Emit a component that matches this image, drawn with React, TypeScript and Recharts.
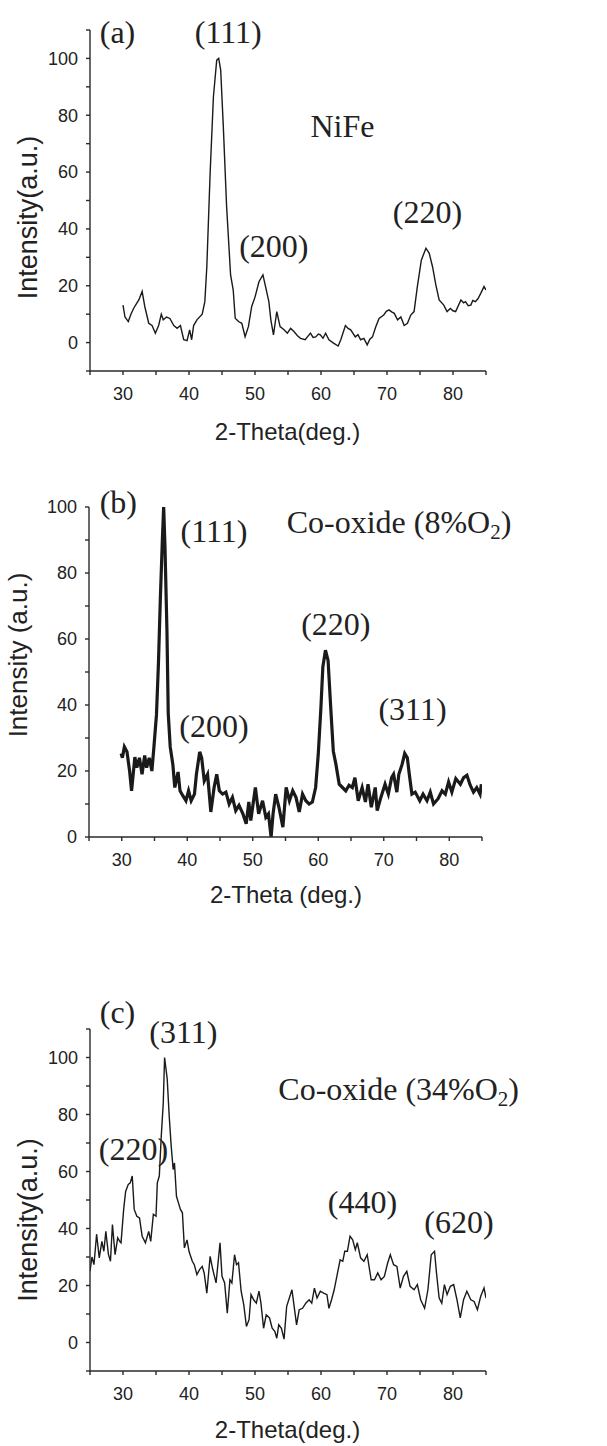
import React from 'react';
import { LineChart, Line, XAxis, YAxis } from 'recharts';

// ---------- Panel (a) NiFe ----------
const thetaA = [30.0, 30.3, 30.8, 31.2, 31.6, 32.0, 32.4, 32.9, 33.3, 33.9, 34.4, 34.9, 35.4, 35.8, 36.1, 36.6, 37.1, 37.7, 38.2, 38.7, 39.2, 39.7, 40.1, 40.4, 40.7, 41.2, 42.0, 42.4, 42.7, 43.2, 43.7, 44.2, 44.5, 44.8, 45.2, 45.7, 46.3, 46.7, 47.0, 47.5, 48.0, 48.5, 49.0, 49.5, 50.0, 50.6, 51.2, 51.6, 52.1, 52.4, 52.8, 53.3, 53.8, 54.4, 54.9, 55.4, 55.9, 56.4, 56.9, 57.6, 58.0, 58.4, 58.8, 59.2, 59.6, 59.9, 60.3, 60.7, 61.2, 61.9, 62.6, 63.0, 63.7, 64.1, 64.5, 65.2, 65.6, 66.0, 66.5, 67.0, 67.4, 67.8, 68.3, 68.8, 69.5, 69.9, 70.3, 70.7, 71.1, 71.6, 72.1, 72.6, 73.1, 73.6, 74.1, 74.6, 75.2, 75.9, 76.4, 76.9, 77.4, 77.9, 78.6, 79.1, 79.6, 80.0, 80.4, 81.2, 81.6, 81.9, 82.3, 82.7, 83.0, 83.4, 83.8, 84.2, 84.7, 85.0];
const intensityA = [13.2, 9.0, 7.4, 10.0, 12.0, 13.5, 15.0, 18.0, 12.7, 6.8, 6.0, 3.3, 6.0, 10.0, 8.0, 9.0, 8.5, 6.0, 5.0, 6.0, 1.0, 0.7, 4.5, 1.0, 6.0, 8.0, 10.0, 14.4, 26.7, 59.5, 86.5, 99.4, 100.0, 96.0, 76.0, 47.8, 23.8, 18.5, 8.6, 7.4, 6.8, 2.1, 5.6, 12.7, 16.0, 21.4, 23.8, 19.7, 14.4, 8.0, 2.7, 10.9, 5.6, 4.5, 3.3, 5.0, 3.9, 2.5, 1.5, 1.0, 2.2, 3.3, 1.8, 2.0, 3.0, 2.7, 1.5, 3.3, 1.0, -0.2, -1.2, 1.0, 6.0, 5.0, 4.5, 2.0, 2.8, 1.0, 1.5, -0.8, 1.2, 2.0, 5.6, 8.5, 9.7, 11.0, 11.5, 10.8, 10.3, 8.0, 9.0, 6.0, 6.8, 9.7, 10.9, 19.7, 29.0, 33.2, 31.4, 26.7, 20.3, 15.0, 13.2, 10.9, 12.0, 11.2, 10.9, 15.0, 14.0, 14.4, 13.0, 13.2, 14.8, 14.4, 15.5, 17.3, 19.7, 18.5];

// ---------- Panel (b) Co-oxide 8% O2 ----------
const thetaB = [29.9, 30.1, 30.4, 30.8, 31.2, 31.5, 32.0, 32.3, 32.7, 33.1, 33.5, 33.8, 34.2, 34.6, 34.9, 35.3, 35.6, 35.9, 36.2, 36.4, 36.6, 36.9, 37.1, 37.4, 37.8, 38.1, 38.6, 38.9, 39.3, 39.8, 40.2, 40.6, 41.1, 41.4, 41.9, 42.2, 42.6, 43.1, 43.6, 44.1, 44.5, 44.9, 45.4, 45.9, 46.4, 46.9, 47.4, 47.9, 48.5, 49.0, 49.4, 49.7, 50.4, 50.9, 51.5, 52.0, 52.4, 52.8, 53.1, 53.5, 54.0, 54.6, 55.1, 55.6, 56.1, 56.6, 57.1, 57.6, 58.1, 58.6, 59.1, 59.6, 60.0, 60.4, 60.7, 61.1, 61.5, 61.9, 62.3, 62.7, 63.2, 63.7, 64.2, 64.7, 65.2, 65.6, 66.1, 66.7, 67.2, 67.6, 68.1, 68.7, 69.0, 69.5, 70.2, 70.7, 71.2, 71.5, 72.0, 72.3, 72.8, 73.2, 73.6, 73.9, 74.3, 74.8, 75.5, 76.0, 76.6, 77.1, 77.6, 78.3, 78.9, 79.4, 79.9, 80.4, 81.0, 81.7, 82.2, 82.7, 83.2, 83.7, 84.2, 84.7, 84.9];
const intensityB = [25.3, 24.0, 27.3, 25.8, 20.0, 14.0, 24.2, 21.0, 24.0, 19.0, 24.7, 21.0, 24.0, 20.0, 27.0, 37.0, 52.5, 72.7, 90.0, 100.0, 88.0, 62.6, 37.4, 27.3, 22.0, 15.0, 19.7, 14.0, 12.6, 11.0, 14.0, 11.0, 13.0, 19.0, 25.8, 24.0, 17.0, 19.0, 7.6, 15.0, 19.0, 14.0, 13.0, 13.6, 10.0, 12.0, 8.0, 9.6, 7.0, 4.0, 10.6, 5.0, 15.0, 7.0, 11.0, 6.0, 7.0, 0.0, 7.0, 13.0, 9.0, 3.0, 15.0, 11.0, 14.0, 12.0, 7.6, 13.0, 11.0, 10.0, 10.6, 15.0, 25.0, 39.0, 51.5, 56.6, 53.5, 39.4, 26.0, 22.0, 16.0, 15.0, 14.0, 15.7, 15.0, 18.0, 11.0, 15.0, 10.6, 16.0, 9.0, 15.0, 8.0, 11.6, 16.0, 13.0, 18.0, 19.0, 13.6, 19.0, 22.0, 25.3, 24.0, 19.0, 13.0, 13.6, 11.0, 13.0, 11.0, 13.6, 10.0, 11.6, 14.0, 13.0, 16.7, 13.6, 17.7, 16.0, 18.0, 18.7, 15.7, 13.6, 15.0, 13.0, 16.0];

// ---------- Panel (c) Co-oxide 34% O2 ----------
const thetaC = [25.0, 25.3, 25.6, 26.0, 26.4, 26.8, 27.1, 27.4, 27.8, 28.1, 28.4, 28.8, 29.2, 29.5, 29.7, 30.1, 30.4, 30.8, 31.1, 31.4, 31.7, 32.1, 32.5, 32.9, 33.4, 33.9, 34.2, 34.6, 35.0, 35.2, 35.5, 35.8, 36.1, 36.3, 36.7, 37.0, 37.3, 37.6, 37.8, 38.1, 38.4, 38.7, 39.0, 39.3, 39.7, 40.0, 40.5, 40.8, 41.2, 41.6, 42.0, 42.3, 42.7, 43.2, 43.6, 44.1, 44.7, 45.0, 45.4, 45.8, 46.2, 46.5, 46.9, 47.2, 47.5, 47.9, 48.3, 48.7, 49.1, 49.4, 49.8, 50.2, 50.6, 50.9, 51.3, 51.7, 52.2, 52.6, 53.0, 53.3, 53.6, 54.0, 54.4, 54.8, 55.2, 55.6, 55.9, 56.3, 56.7, 57.2, 57.7, 58.2, 58.6, 59.0, 59.4, 59.9, 60.4, 60.9, 61.2, 61.6, 62.0, 62.4, 62.9, 63.3, 63.6, 64.0, 64.4, 64.8, 65.2, 65.5, 66.0, 66.5, 67.0, 67.6, 68.1, 68.6, 69.1, 69.6, 70.1, 70.5, 71.0, 71.5, 72.0, 72.5, 73.0, 73.5, 74.1, 74.6, 75.1, 75.7, 76.2, 76.7, 77.2, 77.5, 77.9, 78.3, 78.7, 79.1, 79.6, 80.1, 80.6, 81.1, 81.6, 82.1, 82.7, 83.2, 83.7, 84.2, 84.7, 85.0];
const intensityC = [25.0, 30.0, 27.3, 38.0, 29.7, 35.5, 32.0, 39.0, 30.8, 28.5, 41.4, 30.8, 36.7, 35.5, 35.0, 46.7, 53.0, 55.5, 56.0, 58.4, 46.7, 44.3, 43.7, 37.3, 35.0, 39.0, 35.5, 45.0, 44.3, 56.0, 58.4, 72.5, 84.0, 100.0, 92.4, 79.5, 69.0, 60.7, 63.0, 51.3, 49.0, 46.7, 45.5, 33.2, 36.0, 32.0, 28.5, 27.3, 23.8, 25.6, 26.7, 24.4, 17.3, 30.2, 25.6, 20.9, 35.0, 23.2, 20.9, 10.3, 22.0, 20.9, 30.8, 27.3, 28.0, 18.0, 13.2, 5.6, 8.0, 16.8, 15.0, 13.8, 18.0, 13.8, 5.0, 9.7, 8.6, 5.0, 3.9, 1.5, 6.2, 5.0, 1.2, 12.7, 15.6, 18.5, 13.2, 6.2, 11.5, 12.0, 13.8, 15.0, 13.8, 19.1, 15.6, 18.0, 17.3, 16.8, 12.0, 15.0, 18.5, 23.2, 29.0, 28.5, 32.0, 32.0, 37.3, 36.0, 32.6, 35.0, 29.7, 28.5, 30.8, 22.0, 22.0, 24.4, 22.0, 23.2, 27.9, 30.8, 27.3, 26.7, 19.1, 23.2, 25.0, 19.7, 18.5, 20.3, 15.0, 12.0, 18.5, 30.8, 32.0, 24.4, 15.6, 13.8, 20.3, 16.8, 19.7, 20.3, 15.0, 8.6, 15.0, 18.0, 15.0, 14.4, 11.5, 16.2, 19.1, 15.6];

const xTicks = [25, 30, 35, 40, 45, 50, 55, 60, 65, 70, 75, 80, 85];
const yTicksWide = [-10, 0, 10, 20, 30, 40, 50, 60, 70, 80, 90, 100, 110];
const yTicksB = [0, 10, 20, 30, 40, 50, 60, 70, 80, 90, 100];

const build = (xs: number[], ys: number[]) => xs.map((t, i) => ({ t, v: ys[i] }));
const dataA = build(thetaA, intensityA);
const dataB = build(thetaB, intensityB);
const dataC = build(thetaC, intensityC);

const SANS = '"Liberation Sans", Arial, sans-serif';
const SERIF = '"Liberation Serif", "Times New Roman", serif';
const AXIS = '#2a2a2a';

const fmtX = (v: number) => (v % 10 === 0 && v >= 30 && v <= 80 ? String(v) : '');
const fmtY = (v: number) => (v % 20 === 0 && v >= 0 && v <= 100 ? String(v) : '');

const tickStyle = { fontFamily: SANS, fontSize: 18, fill: '#222' };

type PanelProps = {
  top: number;
  height: number;
  margin: { top: number; right: number; bottom: number; left: number };
  data: { t: number; v: number }[];
  yDomain: [number, number];
  yTicks: number[];
  strokeWidth: number;
};

function Panel({ top, height, margin, data, yDomain, yTicks, strokeWidth }: PanelProps) {
  return (
    <div style={{ position: 'absolute', left: 0, top, width: 607, height }}>
      <LineChart width={607} height={height} data={data} margin={margin}>
        <XAxis
          dataKey="t"
          type="number"
          domain={[25, 85]}
          ticks={xTicks}
          tickFormatter={fmtX}
          allowDataOverflow
          height={40}
          tickSize={4}
          tickMargin={12}
          stroke={AXIS}
          strokeWidth={1.4}
          tick={tickStyle}
          interval={0}
        />
        <YAxis
          type="number"
          domain={yDomain}
          ticks={yTicks}
          tickFormatter={fmtY}
          allowDataOverflow
          width={50}
          tickSize={4}
          tickMargin={8}
          stroke={AXIS}
          strokeWidth={1.4}
          tick={tickStyle}
          interval={0}
        />
        <Line
          dataKey="v"
          type="linear"
          stroke="#1a1a1a"
          strokeWidth={strokeWidth}
          dot={false}
          isAnimationActive={false}
        />
      </LineChart>
    </div>
  );
}

const ann = { fontFamily: SERIF, fontSize: 32, fill: '#222' } as const;
const axTitle = { fontFamily: SANS, fontSize: 24, fill: '#222' } as const;

export default function App() {
  return (
    <div style={{ position: 'absolute', left: 0, top: 0, width: 607, height: 1446, background: '#fff' }}>
      <Panel
        top={0}
        height={480}
        margin={{ top: 30, right: 121, bottom: 69, left: 40 }}
        data={dataA}
        yDomain={[-10, 110]}
        yTicks={yTicksWide}
        strokeWidth={1.4}
      />
      <Panel
        top={480}
        height={460}
        margin={{ top: 27, right: 125, bottom: 63, left: 39 }}
        data={dataB}
        yDomain={[0, 100]}
        yTicks={yTicksB}
        strokeWidth={3.2}
      />
      <Panel
        top={940}
        height={506}
        margin={{ top: 89, right: 121, bottom: 35, left: 40 }}
        data={dataC}
        yDomain={[-10, 110]}
        yTicks={yTicksWide}
        strokeWidth={1.4}
      />
      <svg
        width={607}
        height={1446}
        style={{ position: 'absolute', left: 0, top: 0, pointerEvents: 'none' }}
      >
        {/* Panel (a) */}
        <text x={117.5} y={43} textAnchor="middle" {...ann}>(a)</text>
        <text x={228.3} y={43.3} textAnchor="middle" {...ann}>(111)</text>
        <text x={342.5} y={136.7} textAnchor="middle" {...ann}>NiFe</text>
        <text x={273.8} y={256.7} textAnchor="middle" {...ann}>(200)</text>
        <text x={427.5} y={223.3} textAnchor="middle" {...ann}>(220)</text>
        <text x={287.5} y={440} textAnchor="middle" {...axTitle}>2-Theta(deg.)</text>
        <text x={37} y={217.5} textAnchor="middle" transform="rotate(-90 37 217.5)" {...axTitle} fontSize={27}>Intensity(a.u.)</text>

        {/* Panel (b) */}
        <text x={118.3} y={513.3} textAnchor="middle" {...ann}>(b)</text>
        <text x={214} y={541.7} textAnchor="middle" {...ann}>(111)</text>
        <text x={286.7} y={533.3} textAnchor="start" {...ann}>
          Co-oxide (8%O<tspan fontSize={21} dy={6}>2</tspan><tspan dy={-6}>)</tspan>
        </text>
        <text x={335.8} y={635} textAnchor="middle" {...ann}>(220)</text>
        <text x={214} y={736.7} textAnchor="middle" {...ann}>(200)</text>
        <text x={412.5} y={720} textAnchor="middle" {...ann}>(311)</text>
        <text x={286} y={903} textAnchor="middle" {...axTitle}>2-Theta (deg.)</text>
        <text x={27} y={655} textAnchor="middle" transform="rotate(-90 27 655)" {...axTitle} fontSize={26}>Intensity (a.u.)</text>

        {/* Panel (c) */}
        <text x={117.5} y={1023.3} textAnchor="middle" {...ann}>(c)</text>
        <text x={183.3} y={1043.3} textAnchor="middle" {...ann}>(311)</text>
        <text x={278.3} y={1100} textAnchor="start" {...ann}>
          Co-oxide (34%O<tspan fontSize={21} dy={6}>2</tspan><tspan dy={-6}>)</tspan>
        </text>
        <text x={133.5} y={1160} textAnchor="middle" {...ann}>(220)</text>
        <text x={362.5} y={1213.3} textAnchor="middle" {...ann}>(440)</text>
        <text x={459} y={1233.3} textAnchor="middle" {...ann}>(620)</text>
        <text x={287.5} y={1438} textAnchor="middle" {...axTitle}>2-Theta(deg.)</text>
        <text x={37} y={1220} textAnchor="middle" transform="rotate(-90 37 1220)" {...axTitle} fontSize={27}>Intensity(a.u.)</text>
      </svg>
    </div>
  );
}
